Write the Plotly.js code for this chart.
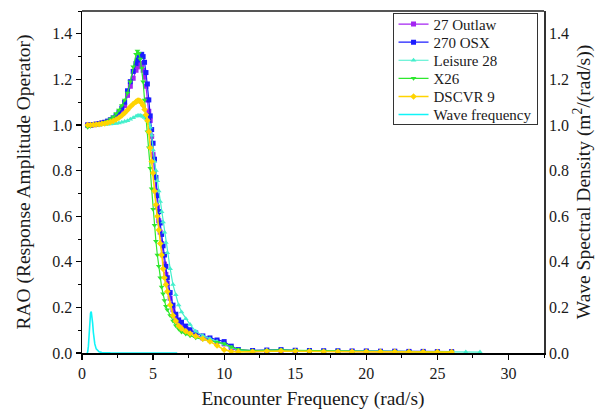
<!DOCTYPE html>
<html>
<head>
<meta charset="utf-8">
<script src="https://cdn.plot.ly/plotly-3.0.1.min.js"></script>
<style>
  html, body { margin: 0; padding: 0; background: #fff; }
  #chart { width: 604px; height: 410px; }
</style>
</head>
<body>
<div id="chart"></div>
<script>
// Encounter frequency grid (rad/s) shared by the RAO curves
const freq = [0.4,0.6,0.8,1.0,1.2,1.4,1.6,1.8,2.0,2.2,2.4,2.6,2.8,3.0,3.2,3.4,3.6,
  3.8,3.9,4.0,4.1,4.2,4.3,4.4,4.5,4.6,4.7,4.8,4.9,5.0,5.1,5.2,5.3,5.4,5.5,5.6,5.7,5.8,5.9,6.0,
  6.2,6.4,6.6,6.8,7.0,7.3,7.6,8.0,8.5,9.0,9.5,10.0,10.5,
  11,12,13,14,15,16,17,18,19,20,21,22,23,24,25,26,27,28];

// Heave RAO per hull
const raoOutlaw27 = [1.0,1.0,1.001,1.003,1.005,1.008,1.011,1.015,1.02,1.027,1.036,1.048,1.064,1.085,1.13,1.17,1.205,
  1.24,1.255,1.265,1.27,1.26,1.24,1.21,1.17,1.11,1.06,1.02,0.95,0.87,0.79,0.71,0.64,0.58,0.53,0.48,0.43,0.39,0.345,0.305,
  0.24,0.19,0.155,0.13,0.115,0.10,0.089,0.077,0.066,0.058,0.05,0.04,0.022,
  0.008,0.005,0.008,0.010,0.008,0.007,0.007,0.006,0.006,0.006,0.005,0.005,0.005,0.004,0.004,0.004];

const raoOSX270 = [1.0,1.0,1.002,1.004,1.006,1.009,1.012,1.017,1.023,1.031,1.042,1.056,1.074,1.1,1.15,1.19,1.235,
  1.27,1.285,1.298,1.306,1.31,1.30,1.275,1.23,1.18,1.11,1.04,0.98,0.92,0.85,0.77,0.69,0.62,0.57,0.52,0.47,0.43,0.38,0.33,
  0.265,0.21,0.17,0.145,0.135,0.118,0.102,0.088,0.075,0.066,0.057,0.05,0.03,
  0.015,0.011,0.013,0.015,0.012,0.011,0.010,0.010,0.009,0.009,0.008,0.008,0.007,0.007,0.006,0.006];

const raoLeisure28 = [1.0,1.0,1.0,1.0,1.0,1.001,1.002,1.003,1.004,1.005,1.007,1.009,1.012,1.015,1.019,1.025,1.032,
  1.038,1.041,1.042,1.042,1.040,1.037,1.033,1.028,1.02,1.005,0.99,0.955,0.89,0.84,0.80,0.755,0.71,0.665,0.62,0.575,0.53,0.485,0.44,
  0.37,0.30,0.255,0.21,0.18,0.15,0.125,0.095,0.076,0.063,0.05,0.04,0.024,
  0.012,0.008,0.012,0.013,0.011,0.010,0.009,0.009,0.008,0.008,0.007,0.007,0.006,0.006,0.005,0.005,0.004,0.004];

const raoX26 = [0.99,0.995,1.0,1.002,1.005,1.008,1.012,1.018,1.026,1.036,1.05,1.066,1.086,1.11,1.14,1.19,1.255,
  1.31,1.325,1.315,1.29,1.25,1.19,1.11,1.04,0.97,0.90,0.81,0.72,0.63,0.56,0.49,0.43,0.38,0.33,0.29,0.26,0.23,0.205,0.19,
  0.165,0.14,0.12,0.105,0.092,0.083,0.076,0.067,0.06,0.053,0.047,0.041,0.027,
  0.015,0.010,0.012,0.014,0.012,0.010,0.009,0.009,0.008,0.008,0.007,0.007,0.006,0.006,0.005,0.005];

const raoDSCVR9 = [1.0,1.0,1.001,1.002,1.003,1.005,1.007,1.01,1.013,1.018,1.024,1.032,1.042,1.053,1.066,1.08,1.092,
  1.102,1.106,1.107,1.104,1.097,1.085,1.068,1.045,1.02,0.97,0.90,0.84,0.79,0.71,0.65,0.60,0.54,0.48,0.43,0.37,0.33,0.30,0.27,
  0.21,0.165,0.14,0.12,0.107,0.095,0.085,0.075,0.063,0.05,0.033,0.014,0.007,
  0.005,0.006,0.008,0.009,0.008,0.007,0.006,0.006,0.006,0.005,0.005,0.005,0.004,0.004,0.004,0.004];

// Sea-state wave spectrum (right axis)
const waveFreq = [0.35,0.40,0.45,0.50,0.55,0.60,0.65,0.70,0.75,0.80,0.85,0.90,1.00,1.10,1.20,1.40,1.60,2.0,3.0,4.0,5.0,6.0,6.7];
const waveDensity = [0,0.005,0.03,0.08,0.14,0.175,0.182,0.165,0.13,0.09,0.06,0.04,0.018,0.009,0.005,0.002,0.001,0.0004,0.0001,0,0,0,0];

const seriesNames = ['27 Outlaw', '270 OSX', 'Leisure 28', 'X26', 'DSCVR 9'];
const seriesValues = [raoOutlaw27, raoOSX270, raoLeisure28, raoX26, raoDSCVR9];
const seriesColors = ['#a424f2', '#1c1cff', '#44efcc', '#2ee82e', '#ffd400'];
const seriesSymbols = ['square', 'square', 'triangle-up', 'triangle-down', 'diamond'];
const seriesWidths = [1.2, 1.2, 1.2, 1.2, 1.6];

const traces = seriesNames.map((name, i) => ({
  type: 'scatter',
  mode: 'lines+markers',
  name: name,
  x: freq.slice(0, seriesValues[i].length),
  y: seriesValues[i],
  line: { color: seriesColors[i], width: seriesWidths[i] },
  marker: { color: seriesColors[i], symbol: seriesSymbols[i], size: 5 },
  yaxis: 'y'
}));

traces.push({
  type: 'scatter',
  mode: 'lines',
  name: 'Wave frequency',
  x: waveFreq,
  y: waveDensity,
  line: { color: '#10f4f8', width: 1.6 },
  yaxis: 'y2'
});

const serif = 'Liberation Serif';
const ink = '#1a1a1a';

const layout = {
  width: 604,
  height: 410,
  margin: { l: 82, r: 60, t: 11, b: 57 },
  paper_bgcolor: '#fff',
  plot_bgcolor: '#fff',
  font: { family: serif, color: ink, size: 16 },
  showlegend: true,
  legend: {
    x: 0.986, y: 0.994, xanchor: 'right', yanchor: 'top',
    bgcolor: '#fff', bordercolor: '#333', borderwidth: 1,
    font: { family: serif, size: 15, color: ink },
    itemwidth: 30
  },
  xaxis: {
    range: [0, 32.5], dtick: 5, tick0: 0,
    showgrid: false, zeroline: false,
    showline: true, linecolor: '#000', linewidth: 1.5,
    ticks: 'outside', ticklen: 5, tickwidth: 1.2, tickcolor: '#000',
    minor: { ticks: 'outside', ticklen: 3, tickwidth: 1, tickcolor: '#000', dtick: 2.5 },
    tickfont: { family: serif, size: 16, color: ink },
    title: { text: 'Encounter Frequency (rad/s)', font: { family: serif, size: 19.5, color: ink }, standoff: 10 }
  },
  yaxis: {
    range: [0, 1.5], dtick: 0.2, tick0: 0, tickformat: '.1f',
    showgrid: false, zeroline: false,
    showline: true, linecolor: '#000', linewidth: 1.5,
    ticks: 'outside', ticklen: 5, tickwidth: 1.2, tickcolor: '#000',
    minor: { ticks: 'outside', ticklen: 3, tickwidth: 1, tickcolor: '#000', dtick: 0.1 },
    tickfont: { family: serif, size: 16, color: ink },
    title: { text: 'RAO (Response Amplitude Operator)', font: { family: serif, size: 19.5, color: ink }, standoff: 16 }
  },
  yaxis2: {
    overlaying: 'y', side: 'right',
    range: [0, 1.5], dtick: 0.2, tick0: 0, tickformat: '.1f',
    showgrid: false, zeroline: false,
    showline: true, linecolor: '#333', linewidth: 1.8,
    ticks: '',
    tickfont: { family: serif, size: 16, color: ink },
    title: { text: 'Wave Spectral Density (m<sup>2</sup>/(rad/s))', font: { family: serif, size: 19.5, color: ink }, standoff: 8 }
  },
  shapes: [{
    type: 'line', xref: 'paper', yref: 'paper',
    x0: 0, x1: 1, y0: 1, y1: 1,
    line: { color: '#555', width: 2 }
  }]
};

// Lay the legend rows out on a compact pitch inside a tighter box
function compactLegend(gd, firstRow, pitch, bottomPad) {
  const items = Array.from(gd.querySelectorAll('.legend .traces'));
  if (!items.length) return;
  const xOf = el => {
    const m = /translate\(\s*([-\d.]+)/.exec(el.getAttribute('transform') || '');
    return m ? parseFloat(m[1]) : 0;
  };
  items.forEach((el, i) => {
    el.setAttribute('transform', `translate(${xOf(el)},${firstRow + i * pitch})`);
  });
  const newH = firstRow + (items.length - 1) * pitch + bottomPad;
  const bg = gd.querySelector('.legend .bg');
  if (bg) bg.setAttribute('height', newH);
  gd.querySelectorAll('.legend clipPath rect, .legend .scrollbox-bg').forEach(r => r.setAttribute('height', newH));
}

const gd = document.getElementById('chart');
Plotly.newPlot(gd, traces, layout, { displayModeBar: false, staticPlot: true })
  .then(() => compactLegend(gd, 11, 18.1, 9.5));
</script>
</body>
</html>
